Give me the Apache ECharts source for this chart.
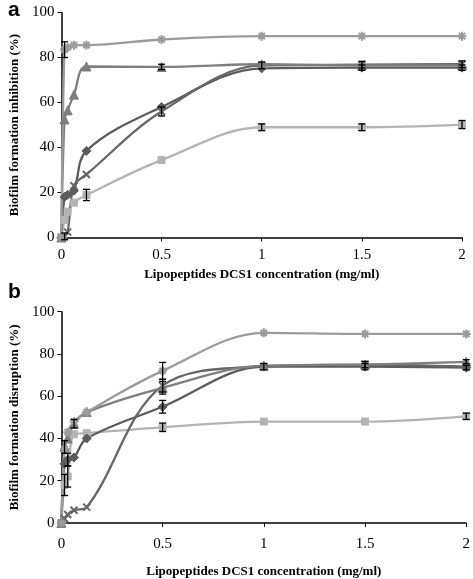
<!DOCTYPE html>
<html><head><meta charset="utf-8">
<script src="https://cdn.jsdelivr.net/npm/echarts@6/dist/echarts.min.js"></script>
<style>html,body{margin:0;padding:0;background:#fff}#c{width:473px;height:579px}</style>
</head><body><div id="c"></div>
<script>
var conc = [0, 0.0156, 0.03125, 0.0625, 0.125, 0.5, 1, 1.5, 2];
var xTicks = ['0','0.5','1','1.5','2'];
// Panel a: inhibition
var aStar = [0, 83.5, 84.5, 85.5, 85.5, 88, 89.5, 89.5, 89.5];
var aTri  = [0, 52.5, 56.5, 63.5, 76, 75.8, 77, 76.5, 76.5];
var aDia  = [0, 18, 19, 20.8, 38.5, 58, 75.2, 75.5, 75.5];
var aX    = [0, 0.5, 2.4, 23, 28, 56, 76.5, 76.8, 77];
var aSq   = [0, 7.8, 11.5, 15.5, 18.9, 34.4, 49, 49, 50.2];
var aStarErr = [0, 3.5, 0, 0, 0, 0, 0, 0, 0];
var aTriErr  = [0, 0, 0, 0, 0, 1.2, 0, 0, 0];
var aDiaErr  = [0, 0, 0, 0, 0, 0, 0, 1.2, 1.2];
var aXErr    = [0, 1.5, 0, 0, 0, 2, 1.5, 1.5, 1.5];
var aSqErr   = [0, 0, 0, 0, 2.5, 0, 1.5, 1.5, 1.8];
// Panel b: disruption
var bStar = [0, 35, 43, 48, 52.5, 72, 90, 89.5, 89.5];
var bTri  = [0, 36, 40, 47, 52.5, 64, 74.5, 75, 76.3];
var bDia  = [0, 28, 30, 31, 40, 55, 74, 74, 73.5];
var bX    = [0, 2, 4, 6, 7.5, 65, 74, 75, 74];
var bSq   = [0, 18, 22, 42, 42.5, 45.3, 48, 48, 50.5];
var bStarErr = [0, 0, 0, 0, 0, 4, 0, 0, 0];
var bTriErr  = [0, 3, 0, 2, 0, 3, 0, 0, 1];
var bDiaErr  = [0, 0, 3, 0, 0, 3, 1.5, 1.5, 1];
var bXErr    = [0, 0, 0, 0, 0, 3, 0, 1.5, 0];
var bSqErr   = [0, 5, 5, 0, 0, 2, 0, 0, 1.5];

var serif = '"Liberation Serif", "DejaVu Serif", serif';
var starPath = 'path://M0,5 L10,5 M5,0 L5,10 M1.5,1.5 L8.5,8.5 M8.5,1.5 L1.5,8.5';
var xPath = 'path://M1,1 L9,9 M9,1 L1,9';

function pairs(v){ return conc.map(function(c,i){ return [c, v[i]]; }); }
function errData(v,e){ return conc.map(function(c,i){ return [c, v[i]-e[i], v[i]+e[i], e[i]]; }); }

function lineSeries(v, sym, color, size, idx, isPath){
  return {
    type:'line', xAxisIndex:idx, yAxisIndex:idx, data:pairs(v), smooth:0.35,
    symbol:sym, symbolSize:size, showAllSymbol:true,
    lineStyle:{color:color, width:2.3},
    itemStyle: isPath ? {color:color, borderColor:color, borderWidth:2} : {color:color, borderColor:color},
    z:3, animation:false
  };
}
function errSeries(v, e, idx){
  return {
    type:'custom', xAxisIndex:idx, yAxisIndex:idx, data:errData(v,e), z:4, animation:false,
    renderItem:function(params, api){
      if (api.value(3) <= 0) return null;
      var x = api.value(0);
      var lo = api.coord([x, api.value(1)]);
      var hi = api.coord([x, api.value(2)]);
      var w = 3.5;
      var st = {stroke:'#000', lineWidth:1.3};
      return {type:'group', children:[
        {type:'line', shape:{x1:lo[0], y1:lo[1], x2:hi[0], y2:hi[1]}, style:st},
        {type:'line', shape:{x1:lo[0]-w, y1:lo[1], x2:lo[0]+w, y2:lo[1]}, style:st},
        {type:'line', shape:{x1:hi[0]-w, y1:hi[1], x2:hi[0]+w, y2:hi[1]}, style:st}
      ]};
    }
  };
}

var cStar = '#9b9b9b', cTri = '#7e7e7e', cDia = '#5c5c5c', cX = '#666666', cSq = '#b4b4b4';

function xAxisCfg(idx, gap, margin){
  return {
    type:'value', gridIndex:idx, min:0, max:2, interval:0.5,
    name:'Lipopeptides DCS1 concentration (mg/ml)', nameLocation:'middle', nameGap:gap,
    nameTextStyle:{fontFamily:serif, fontWeight:'bold', fontSize:13, color:'#000'},
    axisLine:{lineStyle:{color:'#000', width:1.5}},
    axisTick:{show:true, length:4, lineStyle:{color:'#000'}},
    axisLabel:{fontFamily:serif, fontSize:15, color:'#000', margin:margin,
      formatter:function(v){ var i = Math.round(v/0.5); return xTicks[i] !== undefined ? xTicks[i] : ''; }},
    splitLine:{show:false}
  };
}
function yAxisCfg(idx, name, gap){
  return {
    type:'value', gridIndex:idx, min:0, max:100, interval:20,
    name:name, nameLocation:'middle', nameGap:gap, nameRotate:90,
    nameTextStyle:{fontFamily:serif, fontWeight:'bold', fontSize:13, color:'#000'},
    axisLine:{show:true, lineStyle:{color:'#000', width:1.5}},
    axisTick:{show:true, length:4, lineStyle:{color:'#000'}},
    axisLabel:{fontFamily:serif, fontSize:15, color:'#000', margin:7},
    splitLine:{show:false}
  };
}

var chart = echarts.init(document.getElementById('c'), null, {renderer:'canvas'});
chart.setOption({
  backgroundColor:'#fff',
  animation:false,
  title:[
    {text:'a', left:3, top:-5, textStyle:{fontFamily:'"Liberation Sans", Arial, sans-serif', fontWeight:'bold', fontSize:21, color:'#000'}},
    {text:'b', left:3, top:277, textStyle:{fontFamily:'"Liberation Sans", Arial, sans-serif', fontWeight:'bold', fontSize:21, color:'#000'}}
  ],
  grid:[
    {left:46, top:12.5, width:416, height:225},
    {left:45.5, top:311.7, width:422.5, height:218.3}
  ],
  xAxis:[xAxisCfg(0, 31, 10), xAxisCfg(1, 42, 14)],
  yAxis:[yAxisCfg(0, 'Biofilm formation inhibition (%)', 31), yAxisCfg(1, 'Biofilm formation disruption (%)', 31)],
  series:[
    lineSeries(aSq, 'rect', cSq, 7, 0),
    lineSeries(aDia, 'diamond', cDia, 9, 0),
    lineSeries(aX, xPath, cX, 7, 0, true),
    lineSeries(aTri, 'triangle', cTri, 9, 0),
    lineSeries(aStar, starPath, cStar, 9, 0, true),
    errSeries(aSq, aSqErr, 0),
    errSeries(aDia, aDiaErr, 0),
    errSeries(aX, aXErr, 0),
    errSeries(aTri, aTriErr, 0),
    errSeries(aStar, aStarErr, 0),
    lineSeries(bSq, 'rect', cSq, 7, 1),
    lineSeries(bDia, 'diamond', cDia, 9, 1),
    lineSeries(bX, xPath, cX, 7, 1, true),
    lineSeries(bTri, 'triangle', cTri, 9, 1),
    lineSeries(bStar, starPath, cStar, 9, 1, true),
    errSeries(bSq, bSqErr, 1),
    errSeries(bDia, bDiaErr, 1),
    errSeries(bX, bXErr, 1),
    errSeries(bTri, bTriErr, 1),
    errSeries(bStar, bStarErr, 1)
  ]
});
</script></body></html>
